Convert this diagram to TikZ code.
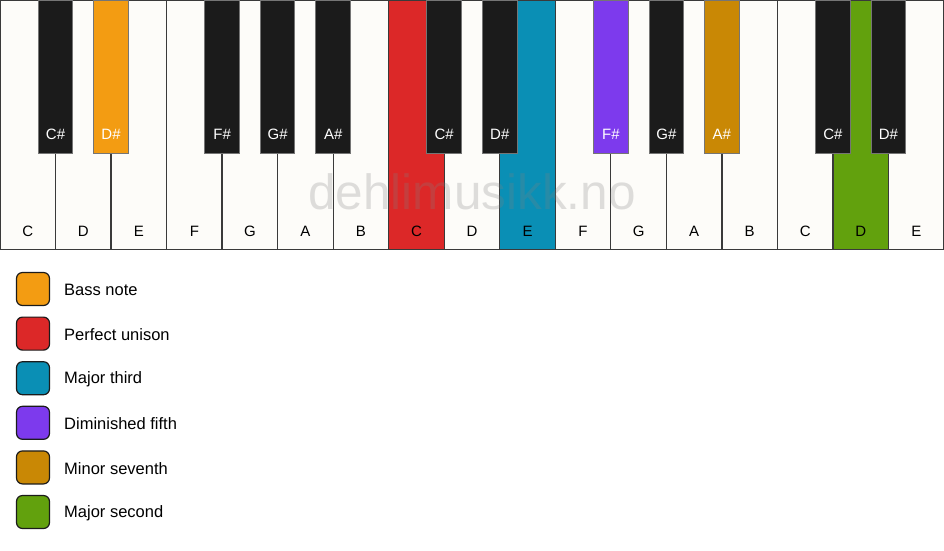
\documentclass[tikz,border=0pt]{standalone}
\usepackage{fontspec}
\setmainfont{Liberation Sans}
\definecolor{keybg}{HTML}{FDFCF9}
\definecolor{blackkey}{HTML}{1B1B1B}
\definecolor{keyline}{HTML}{3A3A3A}
\definecolor{cbass}{HTML}{F39C12}
\definecolor{cunison}{HTML}{DC2828}
\definecolor{cthird}{HTML}{0A8FB5}
\definecolor{cfifth}{HTML}{7D3AED}
\definecolor{cseventh}{HTML}{C98805}
\definecolor{csecond}{HTML}{62A10D}
\begin{document}
\begin{tikzpicture}[x=1pt,y=-1pt,
  whitekey/.style={draw=keyline,line width=1.3pt,rectangle,inner sep=0pt,outer sep=0pt,minimum width=55.53pt,minimum height=249pt,anchor=north west},
  blackkeybox/.style={draw=keyline!70,line width=1pt,rectangle,inner sep=0pt,outer sep=0pt,minimum width=34.5pt,minimum height=153pt,anchor=north},
  wlabel/.style={font=\fontsize{15}{18}\selectfont,text=black},
  blabel/.style={font=\fontsize{15}{18}\selectfont,text=white},
  legbox/.style={draw=blackkey,line width=1.2pt,rounded corners=6pt,minimum size=33pt,inner sep=0pt},
  legtext/.style={font=\fontsize{16.5}{19}\selectfont,anchor=west,inner sep=0pt}]
\useasboundingbox (0,0) rectangle (944,550);
\fill[white] (0,0) rectangle (944,550);
% white keys
\foreach \i/\n/\c in {0/C/keybg,1/D/keybg,2/E/keybg,3/F/keybg,4/G/keybg,5/A/keybg,6/B/keybg,7/C/cunison,8/D/keybg,9/E/cthird,10/F/keybg,11/G/keybg,12/A/keybg,13/B/keybg,14/C/keybg,15/D/csecond,16/E/keybg}{
  \node[whitekey,fill=\c] (w\i) at (\i*55.53,0.5) {};
  \node[wlabel] (wl\i) at ([yshift=18.5pt]w\i.south) {\n};
}
% watermark
\node[font=\fontsize{49.5}{55}\selectfont,text=gray,opacity=0.25] (mark) at (472,192) {dehlimusikk.no};
% black keys
\foreach \b/\n/\c in {1/C\#/blackkey,2/D\#/cbass,4/F\#/blackkey,5/G\#/blackkey,6/A\#/blackkey,8/C\#/blackkey,9/D\#/blackkey,11/F\#/cfifth,12/G\#/blackkey,13/A\#/cseventh,15/C\#/blackkey,16/D\#/blackkey}{
  \node[blackkeybox,fill=\c] (b\b) at (\b*55.53,0) {};
  \node[blabel] (bl\b) at ([yshift=19pt]b\b.south) {\n};
}
% legend
\foreach \k/\c/\t in {0/cbass/Bass note,1/cunison/Perfect unison,2/cthird/Major third,3/cfifth/Diminished fifth,4/cseventh/Minor seventh,5/csecond/Major second}{
  \node[legbox,fill=\c] (lg\k) at (33,289+44.6*\k) {};
  \node[legtext] (lt\k) at (64,290+44.6*\k) {\t};
}
\end{tikzpicture}
\end{document}
